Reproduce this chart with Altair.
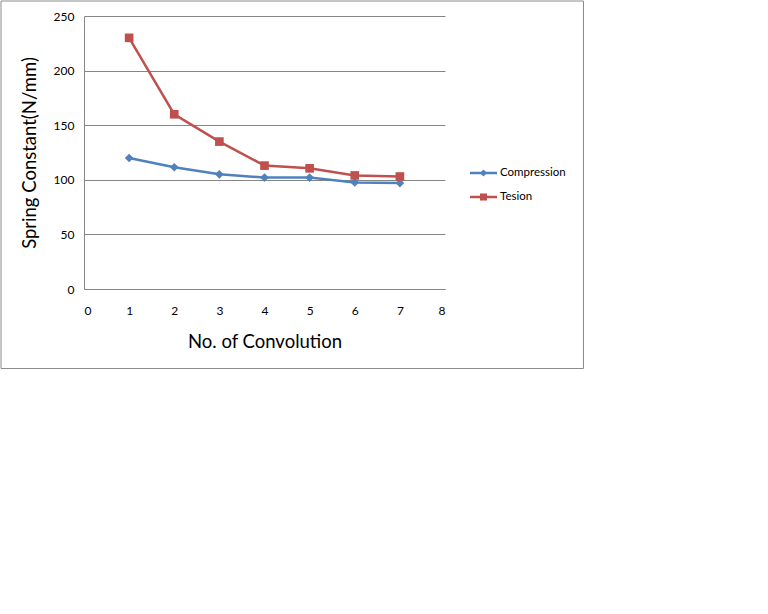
import altair as alt
import pandas as pd

convolutions = [1, 2, 3, 4, 5, 6, 7]
compression = [120, 111.5, 105, 102, 102, 97.5, 97]
tension = [230, 160, 135, 113, 110.5, 104, 103]
series_names = ["Compression", "Tesion"]
marker_shapes = ["diamond", "square"]
colors = ["#4F81BD", "#C0504D"]
x_ticks = [0, 1, 2, 3, 4, 5, 6, 7, 8]
y_ticks = [0, 50, 100, 150, 200, 250]

rows = []
for name, vals in zip(series_names, [compression, tension]):
    for c, v in zip(convolutions, vals):
        rows.append({"conv": c, "k": v, "series": name})
df = pd.DataFrame(rows)
legend_df = pd.DataFrame({"series": series_names, "row": list(range(len(series_names)))})

x_enc = alt.X("conv:Q", scale=alt.Scale(domain=[0, 8], nice=False),
              axis=alt.Axis(values=x_ticks, grid=False, title="No. of Convolution",
                            labelPadding=16, titlePadding=16, titleFontSize=18.5,
                            titleFontWeight="normal"))
y_enc = alt.Y("k:Q", scale=alt.Scale(domain=[0, 250], nice=False),
              axis=alt.Axis(values=y_ticks, grid=True, title="Spring Constant(N/mm)",
                            labelPadding=10, titlePadding=14, titleFontSize=18.5,
                            titleFontWeight="normal"))
color_scale = alt.Scale(domain=series_names, range=colors)
shape_scale = alt.Scale(domain=series_names, range=marker_shapes)

lines = alt.Chart(df).mark_line(strokeWidth=2.5).encode(
    x=x_enc, y=y_enc,
    color=alt.Color("series:N", scale=color_scale, legend=None),
)

points = alt.Chart(df).mark_point(filled=True, opacity=1, size=75).encode(
    x=x_enc, y=y_enc,
    color=alt.Color("series:N", scale=color_scale, legend=None),
    shape=alt.Shape("series:N", scale=shape_scale, legend=None),
)

border = alt.Chart(pd.DataFrame({"b": [0]})).mark_rect(
    fill="transparent", stroke="#8C8C8C", strokeWidth=1
).encode(
    x=alt.value(-83), x2=alt.value(499.5), y=alt.value(-15), y2=alt.value(352.5)
)

main = alt.layer(border, lines, points)

# legend block (line + marker + label), rows placed through their own linear scale
leg_y = alt.Y("row:Q", scale=alt.Scale(domain=[0, 1], range=[157, 181], nice=False, zero=False),
              axis=None)
leg_rule = alt.Chart(legend_df).mark_rule(strokeWidth=2.5).encode(
    x=alt.value(386), x2=alt.value(413), y=leg_y,
    color=alt.Color("series:N", scale=color_scale, legend=None),
)
leg_pts = alt.Chart(legend_df).mark_point(filled=True, opacity=1, size=50).encode(
    x=alt.value(399.5), y=leg_y,
    color=alt.Color("series:N", scale=color_scale, legend=None),
    shape=alt.Shape("series:N", scale=shape_scale, legend=None),
)
leg_text = alt.Chart(legend_df).mark_text(
    align="left", baseline="middle", font="Lato", fontSize=11.5, color="#000000"
).encode(x=alt.value(416), y=leg_y, text="series:N")

legend_block = alt.layer(leg_rule, leg_pts, leg_text)

chart = alt.layer(main, legend_block).resolve_scale(y="independent").properties(
    width=361, height=273,
    autosize=alt.AutoSizeParams(type="none"),
    padding={"left": 84, "top": 16, "right": 139, "bottom": 80},
    background="white",
).configure_view(stroke=None).configure_axis(
    domainColor="#868686", gridColor="#868686", ticks=False,
    labelFont="Lato", labelFontSize=12, labelColor="#000000",
    titleFont="Lato", titleColor="#000000",
)

chart.save("out.html", embed_options={"renderer": "svg", "actions": False})
